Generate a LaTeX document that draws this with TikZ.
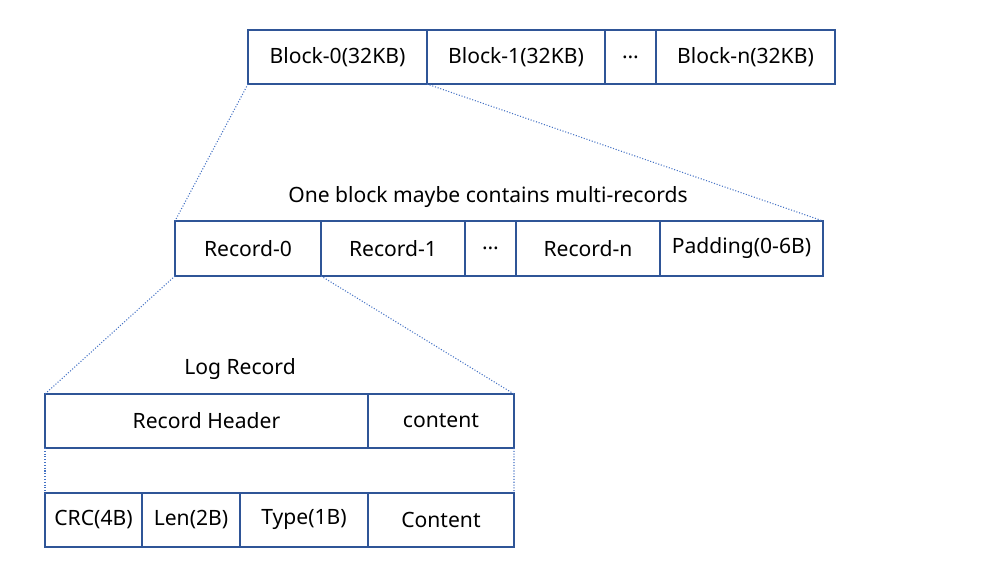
\documentclass[tikz,border=0pt]{standalone}
\usepackage{fontspec}
\setmainfont{Noto Sans}
\usetikzlibrary{positioning}
\definecolor{boxblue}{HTML}{2F5597}
\definecolor{lineblue}{HTML}{4472C4}
\tikzset{
    cell/.style={draw=boxblue, line width=0.6pt, inner sep=0pt, outer sep=0pt,
        font=\fontsize{12}{14}\selectfont},
    toprow/.style={cell, minimum height=1.08cm},
    midrow/.style={cell, minimum height=1.1cm},
    lowrow/.style={cell, minimum height=1.08cm},
    guide/.style={draw=lineblue, densely dotted, line width=0.6pt},
    caption/.style={font=\fontsize{12}{14}\selectfont}
}
\begin{document}
\begin{tikzpicture}
\useasboundingbox (0,0) rectangle (20.14,-11.64);
    % blocks of the log file
    \node[toprow, minimum width=3.58cm, anchor=north west] (block0) at (4.96,-0.6) {Block-0(32KB)};
    \node[toprow, minimum width=3.56cm, right=0pt of block0] (block1) {Block-1(32KB)};
    \node[toprow, minimum width=1.02cm, right=0pt of block1] (bdots) {…};
    \node[toprow, minimum width=3.58cm, right=0pt of bdots] (blockn) {Block-n(32KB)};

    % records inside one block
    \node[caption] (blockcap) at (9.76,-3.94) {One block maybe contains multi-records};
    \node[midrow, minimum width=2.92cm, anchor=north west] (rec0) at (3.5,-4.42) {Record-0};
    \node[midrow, minimum width=2.88cm, right=0pt of rec0] (rec1) {Record-1};
    \node[midrow, minimum width=1.02cm, right=0pt of rec1] (rdots) {…};
    \node[midrow, minimum width=2.88cm, right=0pt of rdots] (recn) {Record-n};
    \node[midrow, minimum width=3.26cm, right=0pt of recn] (pad) {Padding(0-6B)};

    % one log record
    \node[caption] (reccap) at (4.8,-7.38) {Log Record};
    \node[lowrow, minimum width=6.46cm, anchor=north west] (header) at (0.9,-7.88) {Record Header};
    \node[lowrow, minimum width=2.92cm, right=0pt of header] (content) {content};

    \node[lowrow, minimum width=1.94cm, anchor=north west] (crc) at (0.9,-9.86) {CRC(4B)};
    \node[lowrow, minimum width=1.96cm, right=0pt of crc] (len) {Len(2B)};
    \node[lowrow, minimum width=2.56cm, right=0pt of len] (type) {Type(1B)};
    \node[lowrow, minimum width=2.92cm, right=0pt of type] (body) {Content};

    % zoom guides
    \draw[guide] (block0.south west) -- (rec0.north west);
    \draw[guide] (block0.south east) -- (pad.north east);
    \draw[guide] (rec0.south west) -- (header.north west);
    \draw[guide] (rec0.south east) -- (content.north east);
    \draw[guide] (header.south west) -- (crc.north west);
    \draw[guide] (content.south east) -- (body.north east);
\end{tikzpicture}
\end{document}
